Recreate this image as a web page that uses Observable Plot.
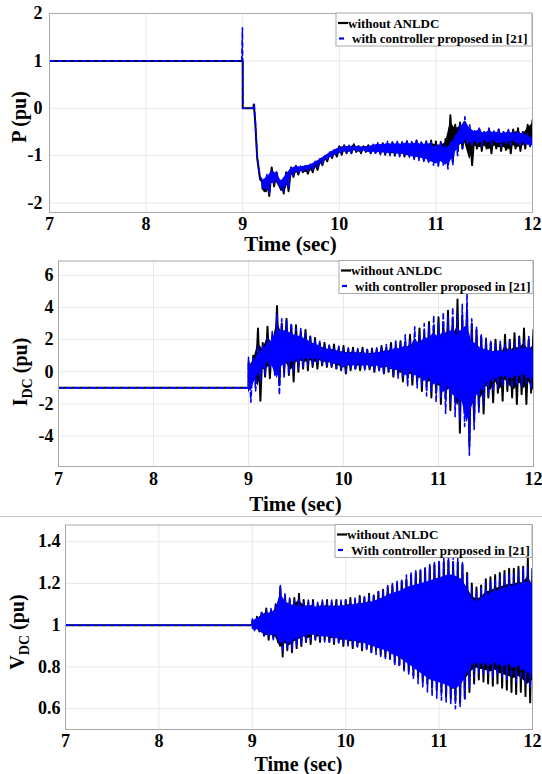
<!DOCTYPE html>
<html><head><meta charset="utf-8">
<script src="https://cdn.jsdelivr.net/npm/d3@7"></script>
<script src="https://cdn.jsdelivr.net/npm/@observablehq/plot@0.6"></script>
<style>
body{margin:0;background:#fff;}
#wrap{position:relative;width:542px;height:774px;overflow:hidden;background:#fff;}
#wrap svg{position:absolute;left:0;}
#sep{position:absolute;left:0;top:516px;width:542px;height:1px;background:#c4c4c4;}
</style></head><body><div id="wrap"><div id="sep"></div></div>
<script>
// ---------- data ----------
const xTicks = [7, 8, 9, 10, 11, 12];
const pTicks = [-2, -1, 0, 1, 2];
const iTicks = [-4, -2, 0, 2, 4, 6];
const vTicks = [0.6, 0.8, 1, 1.2, 1.4];
const xLabel = "Time (sec)";
const legBlack = "without ANLDC";
const legBlue = "with controller proposed in [21]";
const legBlueV = "With controller proposed in [21]";

// sample times of the oscillating part (peaks read at these times)
const tOsc = [9.00,9.05,9.10,9.15,9.20,9.25,9.30,9.35,9.40,9.45,9.50,9.55,9.60,9.65,9.70,9.75,9.80,9.85,9.90,9.95,
  10.00,10.05,10.10,10.15,10.20,10.25,10.30,10.35,10.40,10.45,10.50,10.55,10.60,10.65,10.70,10.75,10.80,10.85,10.90,10.95,
  11.00,11.05,11.10,11.15,11.20,11.25,11.30,11.35,11.40,11.45,11.50,11.55,11.60,11.65,11.70,11.75,11.80,11.85,11.90,11.95,12.00];
const tOscP = tOsc.slice(4); // P band starts at 9.20

// P (pu): pre-fault / transient points
const pBlackT = [7, 9.0, 9.0, 9.11, 9.115, 9.13, 9.15, 9.18];
const pBlackV = [1, 1, 0, 0, 0.08, -0.3, -1.05, -1.5];
const pBlueT = [7, 8.99, 8.997, 9.003, 9.11, 9.12, 9.13, 9.15, 9.18];
const pBlueV = [1, 1, 1.7, 0, 0, 0.08, -0.25, -1.0, -1.45];
const pBlackHi = [-1.55,-1.45,-1.25,-1.35,-1.55,-1.35,-1.25,-1.22,-1.25,-1.22,
  -1.2,-1.15,-1.1,-1.02,-0.95,-0.88,-0.8,-0.78,-0.8,-0.76,
  -0.8,-0.8,-0.78,-0.82,-0.76,-0.74,-0.75,-0.72,-0.74,-0.72,
  -0.7,-0.72,-0.68,-0.72,-0.7,-0.68,-0.7,-0.72,-0.65,-0.15,
  -0.35,-0.3,-0.4,-0.45,-0.5,-0.45,-0.5,-0.45,-0.5,-0.45,
  -0.5,-0.48,-0.45,-0.42,-0.5,-0.35,-0.25];
const pBlackLo = [-1.75,-1.85,-1.65,-1.6,-1.8,-1.75,-1.45,-1.4,-1.35,-1.38,
  -1.35,-1.3,-1.2,-1.12,-1.05,-1.02,-0.98,-0.95,-0.95,-0.92,
  -0.95,-0.92,-0.95,-0.94,-0.95,-0.98,-0.96,-1.0,-0.98,-1.02,
  -1.0,-1.05,-1.05,-1.1,-1.12,-1.1,-1.15,-1.12,-1.18,-1.1,
  -0.9,-0.85,-0.8,-1.2,-0.85,-0.9,-0.85,-0.95,-0.85,-0.9,
  -0.88,-0.95,-0.85,-0.9,-0.85,-0.8,-0.75];
const pBlueHi = [-1.5,-1.4,-1.3,-1.35,-1.5,-1.35,-1.25,-1.2,-1.22,-1.2,
  -1.18,-1.12,-1.06,-1.0,-0.92,-0.86,-0.82,-0.8,-0.78,-0.8,
  -0.78,-0.82,-0.78,-0.76,-0.72,-0.74,-0.7,-0.72,-0.7,-0.72,
  -0.68,-0.7,-0.66,-0.7,-0.68,-0.72,-0.75,-0.7,-0.78,-0.7,
  -0.55,-0.35,-0.18,-0.35,-0.45,-0.4,-0.5,-0.42,-0.48,-0.45,
  -0.5,-0.45,-0.5,-0.48,-0.5,-0.55,-0.6];
const pBlueLo = [-1.7,-1.8,-1.6,-1.55,-1.75,-1.7,-1.42,-1.38,-1.35,-1.32,
  -1.3,-1.25,-1.18,-1.1,-1.04,-1.0,-0.95,-0.93,-0.95,-0.9,
  -0.93,-0.9,-0.96,-0.95,-0.98,-0.96,-1.0,-0.98,-1.02,-1.0,
  -1.05,-1.08,-1.1,-1.12,-1.15,-1.2,-1.25,-1.2,-1.28,-1.2,
  -1.0,-0.85,-0.75,-0.8,-0.75,-0.8,-0.72,-0.78,-0.72,-0.8,
  -0.75,-0.78,-0.72,-0.8,-0.75,-0.82,-0.82];

// I_DC (pu)
const iPreT = [7, 9.0];
const iPreV = [-1, -1];
const iBlackHi = [0.6,1.0,2.7,1.8,2.8,2.2,4.1,3.0,3.3,2.9,
  2.9,2.5,2.6,2.2,2.1,1.8,1.8,1.6,1.7,1.5,
  1.6,1.4,1.5,1.35,1.5,1.35,1.45,1.4,1.6,1.5,
  1.8,1.6,1.9,1.8,2.3,2.0,2.7,2.4,3.1,2.8,
  3.4,3.1,3.8,3.3,4.5,3.5,3.9,3.0,2.6,2.2,
  2.0,1.8,2.0,1.7,2.3,2.0,2.4,2.2,2.7,2.0,2.6];
const iBlackLo = [-1.0,-0.6,-1.8,-0.3,-0.4,0.2,-0.8,0.0,-0.2,-0.6,
  0.0,0.2,0.1,0.3,0.2,0.4,0.3,0.3,0.2,0.1,
  -0.1,0.1,0.2,0.1,0.2,0.15,0.0,0.1,-0.1,0.0,
  -0.3,-0.1,-0.6,-0.4,-0.8,-0.6,-1.2,-0.9,-1.6,-1.3,
  -2.0,-1.7,-2.4,-1.9,-3.8,-2.6,-4.6,-3.0,-2.2,-2.6,
  -1.6,-1.9,-1.3,-1.8,-1.2,-1.6,-2.0,-1.4,-2.0,-1.3,-2.1];
const iBlueHi = [0.9,0.9,1.6,1.7,2.1,2.5,3.6,3.3,3.2,3.0,
  2.7,2.7,2.4,2.2,2.0,1.9,1.6,1.7,1.5,1.6,
  1.4,1.5,1.35,1.45,1.35,1.4,1.35,1.5,1.5,1.7,
  1.6,2.0,1.8,2.3,2.0,2.8,2.4,3.0,2.9,3.5,
  3.1,3.7,3.5,4.0,3.6,4.2,4.9,3.3,2.8,2.3,
  2.1,1.9,1.8,1.9,1.7,2.0,1.8,2.1,1.9,2.2,1.8];
const iBlueLo = [-1.9,-1.2,-0.6,-0.2,0.2,-0.2,-1.45,-0.4,-0.1,0.0,
  0.2,0.3,0.4,0.45,0.5,0.5,0.4,0.35,0.2,0.2,
  0.0,0.2,0.1,0.25,0.1,0.2,0.05,0.1,-0.1,0.0,
  -0.2,-0.4,-0.3,-0.9,-0.5,-1.0,-0.9,-1.5,-1.2,-1.9,
  -1.6,-2.6,-2.0,-2.8,-3.0,-3.4,-5.2,-3.6,-2.6,-2.0,
  -1.5,-1.2,-1.0,-0.9,-0.8,-1.0,-0.8,-0.9,-0.7,-1.1,-0.8];

// V_DC (pu)
const vPreT = [7, 9.0];
const vPreV = [1, 1];
const vBlackHi = [1.02,1.04,1.06,1.08,1.07,1.10,1.18,1.14,1.12,1.13,
  1.15,1.12,1.11,1.12,1.10,1.11,1.12,1.11,1.12,1.11,
  1.12,1.13,1.12,1.14,1.13,1.15,1.14,1.16,1.17,1.18,
  1.19,1.20,1.21,1.22,1.24,1.25,1.26,1.27,1.28,1.29,
  1.30,1.30,1.31,1.30,1.30,1.29,1.25,1.20,1.18,1.19,
  1.22,1.23,1.24,1.25,1.26,1.27,1.27,1.28,1.28,1.32,1.27];
const vBlackLo = [0.98,0.97,0.95,0.93,0.94,0.92,0.85,0.88,0.87,0.89,
  0.90,0.92,0.91,0.93,0.92,0.93,0.92,0.91,0.92,0.90,
  0.91,0.89,0.90,0.88,0.89,0.87,0.88,0.86,0.85,0.84,
  0.82,0.81,0.79,0.78,0.76,0.75,0.73,0.72,0.70,0.69,
  0.68,0.66,0.65,0.64,0.63,0.65,0.68,0.72,0.74,0.73,
  0.72,0.71,0.72,0.70,0.69,0.68,0.67,0.68,0.66,0.63,0.66];
const vBlueHi = [1.03,1.035,1.06,1.07,1.08,1.09,1.19,1.15,1.13,1.12,
  1.12,1.11,1.12,1.11,1.11,1.12,1.11,1.12,1.11,1.12,
  1.12,1.12,1.13,1.13,1.14,1.14,1.15,1.16,1.17,1.19,
  1.20,1.21,1.22,1.24,1.25,1.26,1.27,1.28,1.29,1.30,
  1.31,1.32,1.33,1.33,1.32,1.30,1.24,1.18,1.16,1.18,
  1.20,1.21,1.22,1.23,1.24,1.25,1.25,1.26,1.27,1.28,1.27];
const vBlueLo = [0.97,0.975,0.95,0.94,0.93,0.93,0.87,0.89,0.88,0.90,
  0.91,0.92,0.93,0.93,0.93,0.92,0.92,0.92,0.91,0.91,
  0.90,0.90,0.89,0.89,0.88,0.87,0.86,0.85,0.84,0.83,
  0.81,0.80,0.78,0.76,0.74,0.72,0.70,0.68,0.66,0.65,
  0.64,0.63,0.62,0.60,0.61,0.64,0.70,0.75,0.77,0.76,
  0.76,0.75,0.76,0.75,0.74,0.75,0.73,0.74,0.72,0.70,0.69];

// ---------- build ----------
function series(preT, preV, ts, hi, lo) {
  const pts = preT.map((t, i) => ({t, v: preV[i]}));
  ts.forEach((t, i) => { pts.push({t, v: hi[i]}); pts.push({t: t + 0.025, v: lo[i]}); });
  return pts;
}
// dense inner part of the oscillation band (drawn solid, the zigzag tips stick out of it)
function core(ts, hi, lo, f) {
  return ts.map((t, i) => {
    const m = (hi[i] + lo[i]) / 2, h = (hi[i] - lo[i]) / 2 * f;
    return {t, a: m - h, b: m + h};
  });
}
const FONT = "'Liberation Serif','Times New Roman',serif";
const wrap = document.getElementById("wrap");

function panel(o) {
  const svg = Plot.plot({
    width: 542, height: o.height,
    marginLeft: o.mL, marginRight: o.mR, marginTop: o.mT, marginBottom: o.mB,
    style: {fontFamily: FONT, fontWeight: "bold", fontSize: "18px", color: "#000", background: "transparent", overflow: "visible"},
    x: {domain: [7, 12], label: null},
    y: {domain: o.yDomain, label: null},
    marks: [
      Plot.gridX(xTicks, {stroke: "#e9e9e9", strokeOpacity: 1}),
      Plot.gridY(o.yTicks, {stroke: "#e9e9e9", strokeOpacity: 1}),
      Plot.areaY(o.blackCore, {x: "t", y1: "a", y2: "b", fill: "#000", clip: true}),
      Plot.line(o.black, {x: "t", y: "v", stroke: "#000", strokeWidth: 2, clip: true}),
      Plot.areaY(o.blueCore, {x: "t", y1: "a", y2: "b", fill: "#0000ff", clip: true}),
      Plot.line(o.blue, {x: "t", y: "v", stroke: "#0000ff", strokeWidth: 1.6, strokeDasharray: "5,3", clip: true}),
      Plot.frame({stroke: "#a8a8a8"}),
      Plot.axisX(xTicks, {anchor: "bottom", tickSize: 0, tickPadding: o.xPad, fontSize: 18, fontWeight: "bold", tickFormat: d => String(d)}),
      Plot.axisY(o.yTicks, {anchor: "left", tickSize: 0, tickPadding: o.yPad, fontSize: 18, fontWeight: "bold", tickFormat: d => String(d)})
    ]
  });
  svg.style.top = o.top + "px";
  const s = d3.select(svg);
  const fl = o.mL, fr = 542 - o.mR, ft = o.mT;
  // x label
  s.append("text").attr("x", (fl + fr) / 2).attr("y", o.xLabY).attr("text-anchor", "middle")
    .attr("font-family", FONT).attr("font-weight", "bold").attr("font-size", o.xLabSize).text(xLabel);
  // y label
  const yl = s.append("text").attr("transform", `translate(${o.yLabX},${o.yLabY}) rotate(-90)`)
    .attr("text-anchor", "middle").attr("font-family", FONT).attr("font-weight", "bold").attr("font-size", 20);
  yl.append("tspan").text(o.yMain);
  if (o.ySub) {
    yl.append("tspan").attr("font-size", 14).attr("dy", 5).text(o.ySub);
    yl.append("tspan").attr("dy", -5).text(" (pu)");
  } else {
    yl.append("tspan").text(" (pu)");
  }
  // legend
  const L = fr - o.legW, T = ft, H = 33;
  const g = s.append("g").attr("font-family", FONT).attr("font-weight", "bold").attr("font-size", 13)
    .attr("text-anchor", "start");
  g.append("rect").attr("x", L).attr("y", T).attr("width", o.legW).attr("height", H)
    .attr("fill", "#fff").attr("stroke", "#a8a8a8");
  g.append("line").attr("x1", L + 2).attr("x2", L + 12).attr("y1", T + 10).attr("y2", T + 10)
    .attr("stroke", "#000").attr("stroke-width", 2.2);
  g.append("text").attr("x", L + 12).attr("y", T + 14.5).attr("text-anchor", "start").text(legBlack);
  g.append("line").attr("x1", L + 3).attr("x2", L + 8).attr("y1", T + 25.5).attr("y2", T + 25.5)
    .attr("stroke", "#0000ff").attr("stroke-width", 2.2);
  g.append("text").attr("x", L + 16).attr("y", T + 30).attr("text-anchor", "start").text(o.legBlueText);
  wrap.appendChild(svg);
}

panel({top: 0, height: 258, mL: 49, mR: 10, mT: 13, mB: 46, yDomain: [-2.2, 2], yTicks: pTicks,
  black: series(pBlackT, pBlackV, tOscP, pBlackHi, pBlackLo),
  blue: series(pBlueT, pBlueV, tOscP, pBlueHi, pBlueLo),
  blackCore: core(tOscP, pBlackHi, pBlackLo, 0.7),
  blueCore: core(tOscP, pBlueHi, pBlueLo, 0.7),
  xPad: 5, yPad: 7, xLabY: 251, xLabSize: 21, yLabX: 26, yLabY: 117, yMain: "P", ySub: null,
  legW: 196, legBlueText: legBlue});

panel({top: 250, height: 267, mL: 58, mR: 9, mT: 10.5, mB: 51, yDomain: [-5.9, 6.9], yTicks: iTicks,
  black: series(iPreT, iPreV, tOsc, iBlackHi, iBlackLo),
  blue: series(iPreT, iPreV, tOsc, iBlueHi, iBlueLo),
  blackCore: core(tOsc, iBlackHi, iBlackLo, 0.6),
  blueCore: core(tOsc, iBlueHi, iBlueLo, 0.6),
  xPad: 6, yPad: 5, xLabY: 261, xLabSize: 21, yLabX: 27, yLabY: 122, yMain: "I", ySub: "DC",
  legW: 194, legBlueText: legBlue});

panel({top: 517, height: 257, mL: 65, mR: 10, mT: 7.5, mB: 45, yDomain: [0.5, 1.48], yTicks: vTicks,
  black: series(vPreT, vPreV, tOsc, vBlackHi, vBlackLo),
  blue: series(vPreT, vPreV, tOsc, vBlueHi, vBlueLo),
  blackCore: core(tOsc, vBlackHi, vBlackLo, 0.75),
  blueCore: core(tOsc, vBlueHi, vBlueLo, 0.75),
  xPad: 5, yPad: 5, xLabY: 254, xLabSize: 20, yLabX: 24, yLabY: 115, yMain: "V", ySub: "DC",
  legW: 197, legBlueText: legBlueV});
</script>
</body></html>
